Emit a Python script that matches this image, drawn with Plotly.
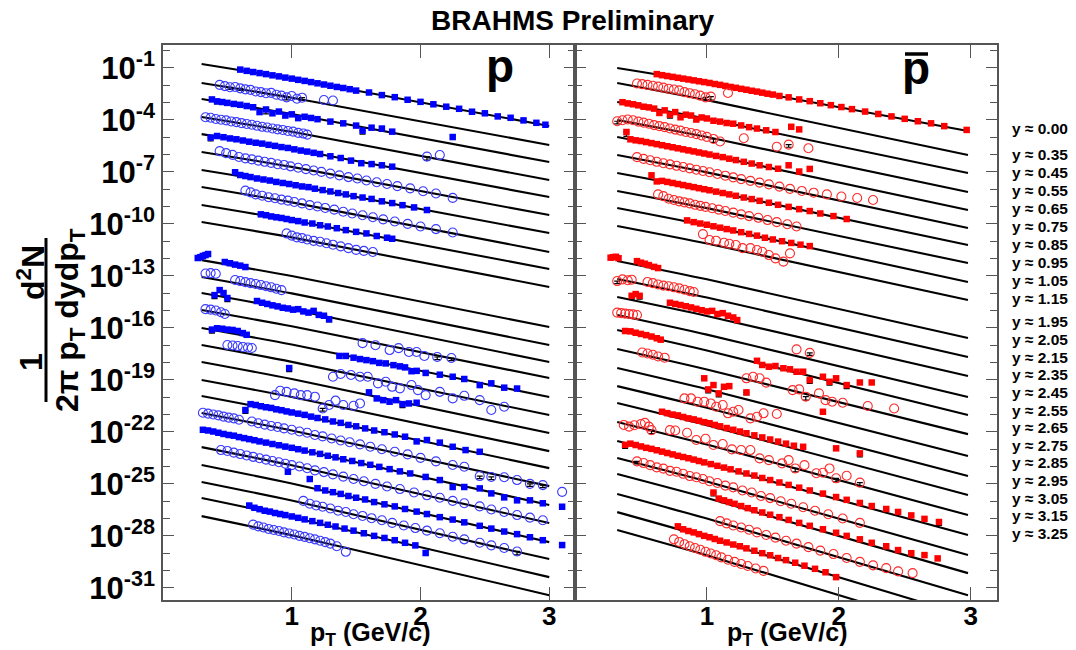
import plotly.graph_objects as go

# ---------------- data (log10 of 1/(2pi pT) d2N/dydpT, scaled per rapidity) -------------
FIT_PT_P = [0.30, 1.00, 3.00]
FIT_PT_PBAR = [0.32, 1.00, 2.98]
FIT_P_LO = [-0.78, -1.87, -2.80, -3.83, -4.82, -5.85, -6.89, -7.87, -8.91, -9.89, -12.09, -13.07, -13.99,
            -14.97, -16.01, -16.99, -17.97, -19.01, -19.93, -20.91, -21.89, -22.88, -23.91, -24.89, -25.82, -26.86]
FIT_P_MID = [-1.63, -2.72, -3.66, -4.69, -5.68, -6.71, -7.75, -8.76, -9.79, -10.78, -13.01, -14.01, -14.94,
             -15.91, -16.96, -17.96, -18.95, -19.99, -20.93, -21.92, -22.93, -23.93, -24.98, -25.96, -26.92, -27.96]
FIT_P_HI = [-4.35, -5.45, -6.43, -7.47, -8.45, -9.49, -10.53, -11.62, -12.60, -13.64, -15.95, -16.99, -17.97,
            -18.89, -19.99, -21.03, -22.07, -23.11, -24.09, -25.13, -26.22, -27.26, -28.36, -29.34, -30.38, -31.42]
FIT_PB_LO = [-1.01, -1.87, -2.97, -4.01, -4.99, -6.03, -7.07, -8.10, -9.08, -10.12, -12.14, -13.18, -14.22,
             -15.26, -16.12, -17.22, -18.32, -19.36, -20.34, -21.43, -22.53, -23.51, -24.43, -25.59, -26.63, -27.66]
FIT_PB_MID = [-1.86, -2.86, -3.94, -4.99, -5.99, -7.03, -8.05, -9.09, -10.09, -11.13, -13.20, -14.25, -15.31,
              -16.39, -17.30, -18.40, -19.54, -20.61, -21.62, -22.73, -23.84, -24.86, -25.81, -27.00, -28.09, -29.12]
FIT_PB_HI = [-4.64, -6.03, -7.07, -8.16, -9.20, -10.24, -11.22, -12.26, -13.35, -14.39, -16.59, -17.68, -18.78,
             -19.99, -21.03, -22.13, -23.39, -24.55, -25.64, -26.80, -27.95, -29.11, -30.15, -31.42, -32.63, -33.67]

RAPIDITY_UPPER = ["0.00", "0.35", "0.45", "0.55", "0.65", "0.75", "0.85", "0.95", "1.05", "1.15"]
RAPIDITY_LOWER = ["1.95", "2.05", "2.15", "2.35", "2.45", "2.55", "2.65", "2.75", "2.85", "2.95",
                  "3.05", "3.15", "3.25"]
Y_LABEL_EXP = [-1, -4, -7, -10, -13, -16, -19, -22, -25, -28, -31]
X_TICKS = [1, 2, 3]

# ---- protons (left panel) ----
p01_pt = [0.60,0.65,0.70,0.75,0.80,0.85,0.90,0.95,1.00,1.05,1.10,1.15,1.20,1.25,1.30,1.35,1.40,1.45,1.50,1.60,1.70,1.80,1.90,2.00,2.10,2.20,2.30,2.40,2.50,2.60,2.70,2.80,2.90,2.97]
p01_log = [-1.10,-1.17,-1.24,-1.30,-1.36,-1.43,-1.49,-1.56,-1.62,-1.69,-1.75,-1.82,-1.89,-1.96,-2.03,-2.10,-2.16,-2.23,-2.31,-2.42,-2.57,-2.69,-2.84,-2.96,-3.10,-3.24,-3.36,-3.53,-3.62,-3.80,-3.88,-4.03,-4.17,-4.28]
p02_pt = [0.44,0.48,0.52,0.56,0.60,0.64,0.68,0.72,0.76,0.80,0.84,0.88,0.92,0.96,1.00,1.04,1.08,1.25,1.32]
p02_log = [-1.98,-2.05,-2.12,-2.10,-2.18,-2.24,-2.27,-2.36,-2.40,-2.46,-2.44,-2.55,-2.60,-2.70,-2.62,-2.78,-2.72,-2.85,-2.88]
p03_pt = [0.38,0.42,0.46,0.50,0.55,0.60,0.65,0.70,0.75,0.80,0.85,0.90,0.95,1.00,1.05,1.10,1.15,1.20,1.30,1.40,1.50,1.55,1.62,1.70,1.78,2.25]
p03_log = [-2.82,-2.93,-2.97,-3.02,-3.08,-3.13,-3.20,-3.27,-3.55,-3.40,-3.62,-3.52,-3.75,-3.68,-3.90,-3.82,-3.89,-3.96,-4.10,-4.20,-4.33,-4.62,-4.45,-4.50,-4.68,-4.99]
p04_pt = [0.33,0.37,0.41,0.45,0.49,0.53,0.57,0.61,0.65,0.69,0.73,0.77,0.81,0.85,0.89,0.93,0.97,1.01,1.05,1.09,1.12,2.05,2.15]
p04_log = [-3.85,-3.88,-3.95,-3.99,-4.03,-4.09,-4.13,-4.19,-4.24,-4.28,-4.34,-4.40,-4.44,-4.50,-4.55,-4.58,-4.64,-4.68,-4.75,-4.79,-4.85,-6.12,-6.03]
p05_pt = [0.37,0.42,0.47,0.52,0.57,0.62,0.67,0.72,0.77,0.82,0.87,0.92,0.97,1.02,1.07,1.12,1.17,1.22,1.30,1.38,1.46,1.54,1.62,1.70,1.78]
p05_log = [-5.02,-4.93,-5.00,-5.07,-5.12,-5.19,-5.26,-5.32,-5.37,-5.44,-5.50,-5.57,-5.62,-5.70,-5.77,-5.83,-5.90,-5.97,-6.10,-6.20,-6.35,-6.50,-6.55,-6.62,-6.70]
p06_pt = [0.44,0.49,0.54,0.59,0.64,0.69,0.74,0.79,0.84,0.89,0.94,0.99,1.05,1.11,1.17,1.23,1.30,1.37,1.44,1.51,1.58,1.66,1.74,1.82,1.92,2.02,2.12,2.25]
p06_log = [-5.80,-5.92,-6.02,-6.14,-6.22,-6.28,-6.35,-6.42,-6.48,-6.56,-6.60,-6.68,-6.76,-6.84,-6.92,-7.00,-7.10,-7.20,-7.30,-7.38,-7.50,-7.60,-7.70,-7.82,-7.95,-8.12,-8.25,-8.50]
p07_pt = [0.56,0.60,0.64,0.68,0.73,0.78,0.83,0.88,0.93,0.98,1.03,1.08,1.13,1.18,1.24,1.30,1.36,1.42,1.48,1.55,1.62,1.70,1.78,1.86,1.95,2.05]
p07_log = [-7.02,-7.18,-7.24,-7.30,-7.38,-7.44,-7.50,-7.58,-7.64,-7.70,-7.77,-7.84,-7.88,-7.97,-8.05,-8.13,-8.22,-8.30,-8.40,-8.48,-8.56,-8.70,-8.80,-8.92,-9.05,-9.20]
p08_pt = [0.64,0.68,0.72,0.77,0.82,0.87,0.92,0.97,1.02,1.08,1.14,1.20,1.26,1.33,1.40,1.47,1.55,1.63,1.71,1.80,1.90,2.00,2.12,2.25]
p08_log = [-8.08,-8.18,-8.30,-8.38,-8.46,-8.52,-8.60,-8.66,-8.74,-8.82,-8.92,-9.00,-9.08,-9.18,-9.30,-9.40,-9.50,-9.62,-9.74,-9.86,-10.00,-10.15,-10.30,-10.50]
p09_pt = [0.76,0.80,0.84,0.88,0.92,0.96,1.00,1.05,1.10,1.16,1.22,1.28,1.35,1.42,1.50,1.58,1.66,1.74,1.78]
p09_log = [-9.45,-9.50,-9.57,-9.62,-9.66,-9.72,-9.78,-9.84,-9.92,-9.98,-10.08,-10.15,-10.25,-10.36,-10.46,-10.55,-10.70,-10.80,-10.86]
p10_pt = [0.96,1.00,1.04,1.08,1.12,1.17,1.22,1.27,1.32,1.38,1.44,1.50,1.56,1.63]
p10_log = [-10.55,-10.68,-10.78,-10.82,-10.90,-10.98,-11.03,-11.12,-11.20,-11.30,-11.40,-11.50,-11.56,-11.62]
p11_pt = [0.27,0.29,0.31,0.33,0.35,0.48,0.52,0.56,0.60,0.64]
p11_log = [-11.97,-11.92,-11.85,-11.80,-11.74,-12.20,-12.27,-12.35,-12.41,-12.49]
p12_pt = [0.33,0.37,0.41,0.56,0.60,0.64,0.68,0.72,0.76,0.80,0.84,0.88,0.92]
p12_log = [-12.86,-12.84,-12.88,-13.24,-13.30,-13.36,-13.42,-13.47,-13.53,-13.60,-13.66,-13.74,-13.82]
p13_pt = [0.40,0.44,0.47,0.50,0.73,0.77,0.81,0.85,0.89,0.93,0.97,1.01,1.05,1.09,1.13,1.17,1.21,1.25,1.29]
p13_log = [-14.11,-13.82,-13.99,-14.28,-14.45,-14.55,-14.62,-14.70,-14.76,-14.84,-14.88,-14.95,-14.92,-15.05,-15.12,-15.02,-15.25,-15.30,-15.50]
p14_pt = [0.33,0.37,0.41,0.45,0.48,1.55,1.65,1.76,1.83,1.91,1.97,2.03,2.13,2.24]
p14_log = [-14.92,-14.95,-15.00,-15.10,-15.20,-16.88,-17.00,-17.28,-17.17,-17.39,-17.39,-17.62,-17.68,-17.74]
p15_pt = [0.38,0.42,0.46,0.50,0.54,0.58,0.62,0.65,1.37,1.42,1.48,1.53,1.58,1.63,1.68,1.73,1.79,1.84,1.88,1.93,1.97,2.04,2.15,2.25,2.34,2.46,2.55,2.65,2.75]
p15_log = [-16.10,-16.02,-16.05,-16.10,-16.12,-16.18,-16.30,-16.40,-17.62,-17.62,-17.72,-17.80,-17.86,-17.92,-18.02,-18.05,-18.15,-18.22,-18.28,-18.50,-18.48,-18.60,-18.70,-18.82,-18.95,-19.30,-19.20,-19.45,-19.50]
p16_pt = [0.50,0.54,0.58,0.62,0.66,0.69,1.32,1.38,1.46,1.53,1.59,1.67,1.73,1.78,1.84,1.93,1.98,2.04,2.15,2.25,2.34,2.46,2.55,2.65]
p16_log = [-16.99,-17.02,-17.05,-17.10,-17.13,-17.16,-18.82,-18.66,-18.72,-18.82,-18.82,-19.20,-19.11,-19.40,-19.49,-19.30,-19.59,-19.88,-19.69,-20.07,-19.92,-20.17,-20.74,-20.55]
p17_pt = [0.98,1.60,1.66,1.71,1.76,1.81,1.86,1.91,1.97]
p17_log = [-18.32,-19.72,-20.07,-20.17,-20.26,-20.17,-20.40,-20.36,-20.32]
p18_pt = [0.87,0.91,0.96,1.02,1.07,1.12,1.18,1.24,1.29,1.34,1.40,1.48,1.53]
p18_log = [-19.88,-19.63,-19.69,-19.78,-19.88,-19.88,-19.97,-20.65,-20.45,-20.20,-20.45,-20.49,-20.36]
p19_pt = [0.64,0.68,0.72,0.76,0.80,0.84,0.88,0.92,0.96,1.00,1.05,1.10,1.15,1.20,1.26,1.32,1.38,1.44,1.50,1.57,1.64,1.72,1.80,1.88,1.97,2.05,2.15,2.25,2.35,2.46]
p19_log = [-20.74,-20.40,-20.45,-20.52,-20.58,-20.62,-20.70,-20.75,-20.82,-20.88,-20.95,-21.02,-21.12,-21.20,-21.28,-21.40,-21.48,-21.60,-21.68,-21.80,-21.92,-22.02,-22.15,-22.28,-22.55,-22.47,-22.62,-22.86,-23.05,-23.15]
p20_pt = [0.31,0.35,0.39,0.43,0.47,0.51,0.55,0.59,0.69,0.74,0.79,0.84,0.89,0.94,1.00,1.06,1.12,1.18,1.24,1.31,1.38,1.45,1.53,1.61,1.70,1.80,1.90,2.00,2.12,2.25,2.34,2.46,2.55,2.65,2.75,2.85,2.95,3.10]
p20_log = [-20.90,-20.95,-21.00,-21.05,-21.12,-21.18,-21.22,-21.30,-21.40,-21.50,-21.58,-21.66,-21.72,-21.80,-21.88,-21.98,-22.05,-22.18,-22.26,-22.38,-22.50,-22.60,-22.72,-22.86,-23.00,-23.15,-23.30,-23.50,-23.70,-23.91,-24.01,-24.55,-24.60,-24.62,-24.78,-25.00,-25.07,-25.46]
p21_pt = [0.31,0.35,0.39,0.43,0.47,0.51,0.55,0.59,0.63,0.67,0.71,0.75,0.80,0.85,0.90,0.95,1.00,1.05,1.10,1.16,1.22,1.28,1.34,1.40,1.47,1.54,1.61,1.68,1.76,1.84,1.92,2.04,2.15,2.25,2.34,2.46,2.55,2.65,2.75,2.85,2.95,3.10]
p21_log = [-21.88,-21.92,-21.98,-22.05,-22.12,-22.18,-22.22,-22.30,-22.36,-22.42,-22.48,-22.55,-22.62,-22.70,-22.77,-22.85,-22.92,-23.00,-23.08,-23.18,-23.27,-23.38,-23.47,-23.58,-23.68,-23.80,-23.90,-24.02,-24.15,-24.28,-24.40,-24.60,-24.78,-25.18,-25.18,-25.26,-25.55,-25.78,-25.95,-25.95,-26.12,-26.32]
p22_pt = [0.45,0.50,0.55,0.60,0.65,0.70,0.75,0.80,0.85,0.90,0.95,1.00,1.06,1.12,1.18,1.25,1.32,1.40,1.48,1.56,1.65,1.74,1.84,1.95,2.05,2.15,2.25,2.34,2.46,2.55,2.65,2.75,2.85,2.95]
p22_log = [-23.05,-23.10,-23.20,-23.28,-23.36,-23.44,-23.52,-23.60,-23.68,-23.75,-23.84,-23.92,-24.00,-24.10,-24.22,-24.32,-24.45,-24.58,-24.72,-24.85,-25.00,-25.15,-25.30,-25.50,-25.66,-25.80,-25.98,-26.12,-26.30,-26.48,-26.62,-26.80,-26.95,-27.10]
p23_pt = [0.97,1.14,1.20,1.26,1.32,1.38,1.44,1.50,1.57,1.64,1.72,1.80,1.88,1.97,2.05,2.15,2.25,2.34,2.46,2.55,2.65,2.75,2.85,2.95,3.10]
p23_log = [-24.30,-24.72,-25.25,-25.38,-25.48,-25.58,-25.70,-25.80,-25.90,-26.05,-26.18,-26.30,-26.45,-26.60,-26.74,-26.92,-27.06,-27.22,-27.42,-27.58,-27.75,-27.90,-28.08,-28.25,-28.53]
p24_pt = [1.09,1.14,1.19,1.24,1.30,1.36,1.42,1.48,1.55,1.62,1.70,1.78,1.87,1.96,2.05,2.15,2.25,2.34,2.46,2.55,2.65,2.75]
p24_log = [-25.98,-26.15,-26.25,-26.32,-26.42,-26.55,-26.62,-26.75,-26.85,-26.98,-27.10,-27.25,-27.40,-27.55,-27.70,-27.85,-28.05,-28.20,-28.40,-28.55,-28.70,-28.90]
p25_pt = [0.67,0.71,0.75,0.79,0.83,0.87,0.91,0.95,1.00,1.05,1.10,1.16,1.22,1.28,1.34,1.41,1.48,1.56,1.64,1.72,1.80,1.88,1.96,2.04]
p25_log = [-26.25,-26.38,-26.46,-26.55,-26.60,-26.68,-26.74,-26.80,-26.88,-26.96,-27.05,-27.15,-27.25,-27.36,-27.46,-27.58,-27.70,-27.85,-28.00,-28.12,-28.25,-28.40,-28.55,-28.99]
p26_pt = [0.70,0.74,0.78,0.82,0.86,0.90,0.94,0.98,1.02,1.06,1.10,1.14,1.18,1.22,1.26,1.30,1.35,1.42]
p26_log = [-27.35,-27.45,-27.52,-27.60,-27.66,-27.72,-27.80,-27.86,-27.92,-28.00,-28.06,-28.14,-28.20,-28.28,-28.36,-28.45,-28.60,-28.92]

# ---- antiprotons (right panel) ----
pb01_pt = [0.62,0.66,0.70,0.74,0.78,0.82,0.86,0.90,0.94,0.98,1.02,1.06,1.10,1.14,1.18,1.22,1.26,1.30,1.34,1.38,1.42,1.46,1.50,1.55,1.62,1.70,1.78,1.86,1.94,2.02,2.10,2.20,2.30,2.40,2.50,2.60,2.70,2.80,2.97]
pb01_log = [-1.36,-1.42,-1.47,-1.52,-1.57,-1.62,-1.67,-1.72,-1.77,-1.82,-1.87,-1.93,-1.98,-2.04,-2.10,-2.15,-2.21,-2.26,-2.32,-2.37,-2.43,-2.49,-2.54,-2.62,-2.70,-2.82,-2.92,-3.04,-3.15,-3.26,-3.38,-3.52,-3.66,-3.80,-3.94,-4.08,-4.20,-4.36,-4.58]
pb02_pt = [0.47,0.51,0.55,0.59,0.63,0.67,0.71,0.75,0.79,0.83,0.87,0.91,0.95,0.99,1.03,1.16]
pb02_log = [-1.90,-1.94,-1.98,-2.03,-2.08,-2.14,-2.20,-2.25,-2.30,-2.40,-2.46,-2.52,-2.60,-2.70,-2.66,-2.45]
pb03_pt = [0.36,0.40,0.44,0.48,0.52,0.56,0.60,0.64,0.68,0.72,0.76,0.80,0.84,0.88,0.92,0.96,1.00,1.05,1.10,1.15,1.20,1.26,1.32,1.38,1.45,1.52,1.64,1.70]
pb03_log = [-2.98,-3.05,-3.10,-3.16,-3.24,-3.28,-3.35,-3.60,-3.45,-3.70,-3.55,-3.85,-3.70,-3.75,-3.98,-3.86,-3.92,-4.05,-4.10,-4.18,-4.22,-4.32,-4.42,-4.50,-4.60,-4.70,-4.40,-4.55]
pb04_pt = [0.32,0.36,0.40,0.44,0.48,0.52,0.56,0.60,0.64,0.68,0.72,0.76,0.80,0.84,0.88,0.92,0.96,1.00,1.05,1.10,1.28,1.53,1.62,1.77]
pb04_log = [-4.08,-4.02,-3.98,-4.02,-4.10,-4.16,-4.22,-4.30,-4.36,-4.42,-4.50,-4.56,-4.62,-4.70,-4.76,-4.82,-4.90,-4.98,-5.10,-5.25,-5.06,-5.55,-5.43,-5.64]
pb05_pt = [0.39,0.42,0.46,0.50,0.54,0.58,0.62,0.66,0.70,0.74,0.78,0.82,0.86,0.90,0.94,0.98,1.02,1.07,1.12,1.17,1.22,1.28,1.34,1.40,1.47,1.54,1.62,1.70,1.78]
pb05_log = [-4.70,-5.12,-5.18,-5.22,-5.28,-5.34,-5.40,-5.46,-5.52,-5.58,-5.64,-5.70,-5.76,-5.82,-5.88,-5.94,-6.00,-6.08,-6.15,-6.24,-6.32,-6.42,-6.52,-6.62,-6.72,-6.82,-6.62,-6.98,-6.83]
pb06_pt = [0.47,0.52,0.57,0.62,0.67,0.72,0.77,0.82,0.87,0.92,0.97,1.02,1.08,1.14,1.20,1.26,1.33,1.40,1.47,1.55,1.63,1.72,1.81,1.91,2.02,2.14,2.26]
pb06_log = [-6.15,-6.25,-6.33,-6.42,-6.50,-6.57,-6.65,-6.72,-6.80,-6.88,-6.95,-7.02,-7.12,-7.22,-7.32,-7.42,-7.52,-7.62,-7.72,-7.85,-7.98,-8.10,-8.20,-8.30,-8.42,-8.51,-8.62]
pb07_pt = [0.58,0.62,0.66,0.70,0.74,0.78,0.82,0.86,0.90,0.94,0.98,1.02,1.07,1.12,1.17,1.22,1.28,1.34,1.40,1.47,1.54,1.62,1.70,1.78,1.86,1.96,2.06]
pb07_log = [-7.20,-7.55,-7.52,-7.58,-7.64,-7.70,-7.76,-7.82,-7.88,-7.94,-8.00,-8.06,-8.14,-8.22,-8.30,-8.38,-8.48,-8.57,-8.67,-8.78,-8.90,-9.02,-9.15,-9.26,-9.40,-9.55,-9.72]
pb08_pt = [0.63,0.67,0.71,0.75,0.79,0.83,0.87,0.91,0.95,0.99,1.04,1.09,1.14,1.20,1.26,1.32,1.39,1.46,1.53,1.61,1.68]
pb08_log = [-8.30,-8.40,-8.55,-8.62,-8.70,-8.76,-8.82,-8.90,-8.96,-9.02,-9.10,-9.18,-9.26,-9.35,-9.45,-9.55,-9.65,-9.78,-9.90,-10.02,-10.15]
pb09_pt = [0.85,0.90,0.95,1.00,1.05,1.10,1.15,1.20,1.26,1.32,1.38,1.44,1.50,1.57,1.64,1.71,1.78]
pb09_log = [-9.80,-9.90,-9.98,-10.05,-10.14,-10.22,-10.30,-10.38,-10.48,-10.58,-10.68,-10.80,-10.90,-11.00,-11.10,-11.20,-11.28]
pb10_pt = [0.97,1.02,1.07,1.13,1.17,1.22,1.27,1.33,1.38,1.42,1.47,1.52,1.58,1.63]
pb10_log = [-10.59,-10.93,-10.97,-11.09,-11.15,-11.22,-11.40,-11.40,-11.51,-11.61,-11.80,-11.99,-12.18,-11.70]
pb11_pt = [0.27,0.29,0.31,0.33,0.47,0.50,0.53,0.56,0.60,0.63]
pb11_log = [-11.95,-11.92,-11.90,-11.98,-12.15,-12.24,-12.30,-12.38,-12.48,-12.55]
pb12_pt = [0.32,0.36,0.40,0.43,0.55,0.59,0.63,0.67,0.71,0.75,0.79,0.83,0.87,0.90]
pb12_log = [-13.30,-13.20,-13.25,-13.22,-13.35,-13.42,-13.50,-13.56,-13.60,-13.66,-13.72,-13.80,-13.88,-13.93]
pb13_pt = [0.43,0.46,0.49,0.72,0.76,0.80,0.84,0.88,0.92,0.96,1.00,1.04,1.08,1.12,1.16,1.20,1.23]
pb13_log = [-14.15,-14.05,-14.15,-14.55,-14.62,-14.68,-14.75,-14.82,-14.90,-14.98,-15.05,-15.02,-15.20,-15.15,-15.30,-15.40,-15.55]
pb14_pt = [0.32,0.35,0.38,0.41,0.44,0.47,1.68,1.78]
pb14_log = [-15.12,-15.15,-15.18,-15.20,-15.22,-15.26,-17.24,-17.44]
pb15_pt = [0.38,0.42,0.46,0.50,0.54,0.58,0.62,0.65,1.38,1.42,1.47,1.52,1.58,1.63,1.68,1.73,1.78,1.88,1.93,1.98,2.06,2.16,2.25]
pb15_log = [-16.18,-16.20,-16.28,-16.35,-16.42,-16.50,-16.60,-16.68,-17.90,-18.14,-18.24,-18.20,-18.33,-18.39,-18.53,-18.53,-19.01,-18.82,-19.11,-18.91,-19.30,-19.15,-19.15]
pb16_pt = [0.51,0.55,0.59,0.63,0.68,1.30,1.35,1.40,1.45,1.65,1.70,1.75,1.85,1.90,1.95,2.03,2.22,2.42]
pb16_log = [-17.42,-17.48,-17.55,-17.65,-17.72,-18.91,-18.82,-18.91,-19.16,-19.59,-19.55,-19.97,-19.78,-20.17,-20.26,-20.32,-20.51,-20.65]
pb17_pt = [0.98,1.01,1.05,1.09,1.13,1.17,1.30,1.88]
pb17_log = [-18.91,-19.55,-19.30,-19.78,-19.40,-19.36,-19.72,-20.84]
pb18_pt = [0.83,0.88,0.93,0.98,1.03,1.07,1.12,1.16,1.20,1.24,1.33,1.38,1.43,1.53]
pb18_log = [-20.07,-20.07,-20.26,-20.26,-20.36,-20.55,-20.45,-20.93,-20.84,-20.74,-21.22,-21.13,-20.93,-20.97]
pb19_pt = [0.66,0.70,0.74,0.78,0.82,0.86,0.90,0.94,0.98,1.02,1.06,1.10,1.15,1.20,1.25,1.30,1.36,1.42,1.48,1.54,1.60,1.66,1.73,1.98,2.16]
pb19_log = [-20.84,-20.92,-21.00,-21.05,-21.14,-21.22,-21.28,-21.36,-21.44,-21.50,-21.60,-21.68,-21.78,-21.88,-21.98,-22.08,-22.20,-22.32,-22.44,-22.56,-22.68,-22.80,-22.86,-22.95,-23.24]
pb20_pt = [0.37,0.41,0.45,0.50,0.53,0.56,0.58,0.72,0.76,0.85,0.92,0.99,1.05,1.12,1.19,1.26,1.33,1.40,1.47,1.57,1.62,1.67,1.74,1.83,1.88,1.93,1.98,2.06,2.16]
pb20_log = [-21.60,-21.70,-21.62,-21.55,-21.48,-21.70,-21.90,-21.90,-21.92,-22.05,-22.47,-22.40,-22.76,-22.70,-23.01,-23.05,-23.05,-23.53,-23.63,-23.82,-23.63,-24.11,-23.92,-24.39,-24.36,-24.11,-24.68,-24.53,-24.93]
pb21_pt = [0.38,0.42,0.46,0.50,0.54,0.58,0.62,0.66,0.70,0.74,0.78,0.82,0.86,0.90,0.94,0.98,1.03,1.08,1.13,1.18,1.24,1.30,1.36,1.42,1.48,1.55,1.62,1.70,1.78,1.88,1.98,2.06,2.16,2.25,2.36,2.45,2.55,2.65,2.76]
pb21_log = [-22.75,-22.68,-22.76,-22.84,-22.92,-22.98,-23.06,-23.14,-23.22,-23.30,-23.38,-23.45,-23.52,-23.60,-23.68,-23.76,-23.86,-23.96,-24.06,-24.16,-24.28,-24.40,-24.52,-24.66,-24.78,-24.92,-25.06,-25.22,-25.38,-25.56,-25.76,-25.92,-26.10,-26.28,-26.45,-26.62,-26.82,-27.02,-27.20]
pb22_pt = [0.47,0.52,0.57,0.62,0.67,0.72,0.77,0.82,0.87,0.92,0.97,1.02,1.08,1.14,1.20,1.27,1.34,1.41,1.48,1.56,1.64,1.73,1.82,1.92,2.03,2.16]
pb22_log = [-23.70,-23.80,-23.92,-24.05,-24.12,-24.25,-24.30,-24.42,-24.55,-24.62,-24.72,-24.85,-24.95,-25.10,-25.20,-25.38,-25.50,-25.70,-25.82,-26.00,-26.15,-26.35,-26.55,-26.75,-27.00,-27.25]
pb23_pt = [1.05,1.09,1.13,1.17,1.21,1.26,1.31,1.36,1.42,1.48,1.55,1.62,1.70,1.78,1.88,1.98,2.06,2.16,2.25,2.36,2.45,2.55,2.65,2.75]
pb23_log = [-25.50,-25.85,-25.95,-26.05,-26.15,-26.28,-26.40,-26.52,-26.65,-26.78,-26.92,-27.08,-27.25,-27.42,-27.62,-27.82,-28.00,-28.20,-28.40,-28.60,-28.82,-29.00,-29.11,-29.30]
pb24_pt = [1.10,1.15,1.20,1.26,1.32,1.38,1.45,1.52,1.60,1.68,1.77,1.86,1.96,2.06,2.16,2.26,2.36,2.45,2.56]
pb24_log = [-27.15,-27.28,-27.40,-27.52,-27.65,-27.80,-27.95,-28.10,-28.28,-28.45,-28.65,-28.85,-29.05,-29.28,-29.50,-29.70,-29.86,-30.05,-30.15]
pb25_pt = [0.78,0.82,0.86,0.90,0.94,0.98,1.02,1.06,1.10,1.15,1.20,1.25,1.30,1.36,1.42,1.48,1.54,1.60,1.67,1.74,1.82,1.90,1.98]
pb25_log = [-27.45,-27.62,-27.72,-27.80,-27.90,-28.00,-28.08,-28.18,-28.28,-28.38,-28.50,-28.60,-28.72,-28.86,-29.00,-29.12,-29.28,-29.40,-29.55,-29.72,-29.90,-30.10,-30.38]
pb26_pt = [0.75,0.79,0.83,0.87,0.91,0.95,0.99,1.03,1.07,1.11,1.16,1.21,1.26,1.31,1.37,1.43]
pb26_log = [-28.20,-28.35,-28.48,-28.60,-28.70,-28.80,-28.92,-29.02,-29.12,-29.24,-29.38,-29.50,-29.62,-29.74,-29.88,-30.02]

# ---- error bars (lower error, in decades) on selected points ----
errp_pt = [0.42,0.50,0.52,0.60,0.80,0.96,1.08,0.37,1.55,1.70,2.05,0.40,0.50,0.38,0.98,1.29,0.64,1.24,1.86,2.13,2.24,2.46,2.55,2.85,2.95,2.75]
errp_log = [-2.93,-3.02,-2.12,-2.18,-3.40,-2.70,-2.72,-5.02,-4.62,-4.50,-6.12,-14.11,-14.28,-16.10,-18.32,-15.50,-20.74,-20.65,-20.40,-17.68,-17.74,-24.55,-24.60,-25.00,-25.07,-28.90]
errp_dn = [0.15,0.15,0.12,0.12,0.25,0.15,0.15,0.20,0.20,0.15,0.20,0.20,0.20,0.20,0.20,0.15,0.20,0.15,0.20,0.15,0.15,0.15,0.15,0.15,0.15,0.20]
errpb_pt = [0.99,1.03,0.32,0.39,0.72,1.05,1.62,0.32,0.43,0.49,1.01,1.09,1.30,1.78,1.93,2.06,1.75,0.38,0.58,1.67,1.98,2.16,0.66,2.16,2.76,1.05,1.78,0.47]
errpb_log = [-2.70,-2.66,-4.08,-4.70,-3.70,-5.10,-5.43,-13.30,-14.15,-14.15,-19.55,-19.78,-19.72,-19.01,-19.11,-19.30,-19.97,-22.75,-21.90,-24.11,-24.68,-24.93,-20.84,-23.24,-27.20,-25.50,-17.44,-23.70]
errpb_dn = [0.15,0.20,0.15,0.25,0.20,0.20,0.15,0.15,0.20,0.20,0.20,0.20,0.15,0.20,0.20,0.20,0.20,0.20,0.20,0.20,0.20,0.20,0.15,0.20,0.20,0.20,0.15,0.15]

# ---------------- figure ----------------
OFF = 8                      # page body margin of the html page
W, H = 1076 - OFF, 650 - OFF
FONT = "Liberation Sans, Arial, Helvetica, sans-serif"
X_L0, X_L1, X_R1 = 163, 575, 997
Y_TOP, Y_BOT = 45, 600


def px(x):
    return (x - OFF) / W


def py(y):
    return 1 - (y - OFF) / H


P_SERIES = [(p01_pt, p01_log), (p02_pt, p02_log), (p03_pt, p03_log), (p04_pt, p04_log), (p05_pt, p05_log),
            (p06_pt, p06_log), (p07_pt, p07_log), (p08_pt, p08_log), (p09_pt, p09_log), (p10_pt, p10_log),
            (p11_pt, p11_log), (p12_pt, p12_log), (p13_pt, p13_log), (p14_pt, p14_log), (p15_pt, p15_log),
            (p16_pt, p16_log), (p17_pt, p17_log), (p18_pt, p18_log), (p19_pt, p19_log), (p20_pt, p20_log),
            (p21_pt, p21_log), (p22_pt, p22_log), (p23_pt, p23_log), (p24_pt, p24_log), (p25_pt, p25_log),
            (p26_pt, p26_log)]
PB_SERIES = [(pb01_pt, pb01_log), (pb02_pt, pb02_log), (pb03_pt, pb03_log), (pb04_pt, pb04_log),
             (pb05_pt, pb05_log), (pb06_pt, pb06_log), (pb07_pt, pb07_log), (pb08_pt, pb08_log),
             (pb09_pt, pb09_log), (pb10_pt, pb10_log), (pb11_pt, pb11_log), (pb12_pt, pb12_log),
             (pb13_pt, pb13_log), (pb14_pt, pb14_log), (pb15_pt, pb15_log), (pb16_pt, pb16_log),
             (pb17_pt, pb17_log), (pb18_pt, pb18_log), (pb19_pt, pb19_log), (pb20_pt, pb20_log),
             (pb21_pt, pb21_log), (pb22_pt, pb22_log), (pb23_pt, pb23_log), (pb24_pt, pb24_log),
             (pb25_pt, pb25_log), (pb26_pt, pb26_log)]

fig = go.Figure()


def add_panel(series, fit_pt, lo, mid, hi, e_pt, e_log, e_dn, fill_col, open_col, xa, ya):
    for i in range(len(lo)):
        fig.add_trace(go.Scatter(
            x=fit_pt, y=[10 ** lo[i], 10 ** mid[i], 10 ** hi[i]], mode="lines",
            line=dict(color="black", width=2.1, shape="spline", smoothing=0.6),
            xaxis=xa, yaxis=ya, showlegend=False, hoverinfo="skip"))
    ys = [10 ** v for v in e_log]
    fig.add_trace(go.Scatter(
        x=e_pt, y=ys, mode="markers", marker=dict(size=1, color="rgba(0,0,0,0)"),
        error_y=dict(type="data", symmetric=False, array=[0] * len(ys),
                     arrayminus=[y - y * 10 ** (-d) for y, d in zip(ys, e_dn)],
                     color="black", thickness=1.2, width=3),
        xaxis=xa, yaxis=ya, showlegend=False, hoverinfo="skip"))
    for i, (pts, logs) in enumerate(series):
        n = min(len(pts), len(logs))
        filled = (i % 2 == 0)
        if filled:
            marker = dict(symbol="square", size=6.5, color=fill_col, line=dict(width=0))
        else:
            marker = dict(symbol="circle-open", size=9, color=open_col, line=dict(width=1.1, color=open_col))
        fig.add_trace(go.Scatter(
            x=pts[:n], y=[10 ** v for v in logs[:n]], mode="markers", marker=marker,
            xaxis=xa, yaxis=ya, showlegend=False, cliponaxis=True))


add_panel(P_SERIES, FIT_PT_P, FIT_P_LO, FIT_P_MID, FIT_P_HI, errp_pt, errp_log, errp_dn,
          "#0000ff", "#3a3aff", "x", "y")
add_panel(PB_SERIES, FIT_PT_PBAR, FIT_PB_LO, FIT_PB_MID, FIT_PB_HI, errpb_pt, errpb_log, errpb_dn,
          "#ff0000", "#ff2a2a", "x2", "y2")

frame_col = "#555555"
label_vals = [10.0 ** e for e in Y_LABEL_EXP]
label_text = ["<b>10<sup>%d</sup></b>" % e for e in Y_LABEL_EXP]
minor_vals = [10.0 ** (-k) for k in range(0, 32) if -k not in Y_LABEL_EXP]

yaxis_common = dict(type="log", range=[-31.70, 0.32], domain=[py(Y_BOT), py(Y_TOP)],
                    showline=True, linecolor=frame_col, linewidth=1.5, mirror="ticks",
                    ticks="inside", ticklen=11, tickcolor=frame_col, tickwidth=1.2,
                    tickvals=label_vals, showgrid=False, zeroline=False,
                    minor=dict(tickvals=minor_vals, ticks="inside", ticklen=7, tickcolor=frame_col,
                               tickwidth=1.2, showgrid=False))
xaxis_common = dict(range=[0, 3.2], showline=True, linecolor=frame_col, linewidth=1.5, mirror="ticks",
                    ticks="inside", ticklen=13, tickcolor=frame_col, tickwidth=1.2,
                    tickvals=X_TICKS, ticktext=["<b>%d</b>" % v for v in X_TICKS],
                    tickfont=dict(family=FONT, size=26, color="black"), ticklabelstandoff=-8,
                    showgrid=False, zeroline=False)

fig.update_layout(
    width=W, height=H, margin=dict(l=0, r=0, t=0, b=0, autoexpand=False),
    paper_bgcolor="white", plot_bgcolor="white", showlegend=False,
    xaxis=dict(domain=[px(X_L0), px(X_L1)], anchor="y", **xaxis_common),
    xaxis2=dict(domain=[px(X_L1), px(X_R1)], anchor="y2", **xaxis_common),
    yaxis=dict(anchor="x", ticktext=label_text, tickfont=dict(family=FONT, size=31, color="black"),
               **yaxis_common),
    yaxis2=dict(anchor="x2", showticklabels=False, **yaxis_common),
)


def note(x, y, text, size, angle=0, xanchor="center"):
    return dict(x=px(x), y=py(y), xref="paper", yref="paper", text=text, showarrow=False,
                textangle=angle, font=dict(family=FONT, size=size, color="black"),
                xanchor=xanchor, yanchor="middle")


ann = [note(573, 21, "<b>BRAHMS Preliminary</b>", 28),
       note(500, 66, "<b>p</b>", 46),
       note(916, 68, "<b>p</b>", 46),
       note(31, 273, "<b>d<sup>2</sup>N</b>", 32, -90),
       note(31, 362, "<b>1</b>", 32, -90),
       note(69, 320, "<b>2\u03c0 p<sub>T</sub> dydp<sub>T</sub></b>", 32, -90)]
for cx in (370, 787):
    ann.append(note(cx, 634, "<b>p<sub>T</sub> (GeV/c)</b>", 25))
for i, lab in enumerate(RAPIDITY_UPPER):
    yy = 128 if i == 0 else 155 + (i - 1) * 17.9
    ann.append(note(1010, yy, "<b>y \u2248 %s</b>" % lab, 15.5, 0, "left"))
for i, lab in enumerate(RAPIDITY_LOWER):
    ann.append(note(1010, 322 + i * 17.6, "<b>y \u2248 %s</b>" % lab, 15.5, 0, "left"))
fig.update_layout(annotations=ann)

shapes = [
    dict(type="line", xref="paper", yref="paper", x0=px(46), x1=px(46), y0=py(238), y1=py(402),
         line=dict(color="black", width=3)),
    dict(type="line", xref="paper", yref="paper", x0=px(905), x1=px(928), y0=py(54), y1=py(54),
         line=dict(color="black", width=3.5)),
]
fig.update_layout(shapes=shapes)

fig.write_html("out.html")
